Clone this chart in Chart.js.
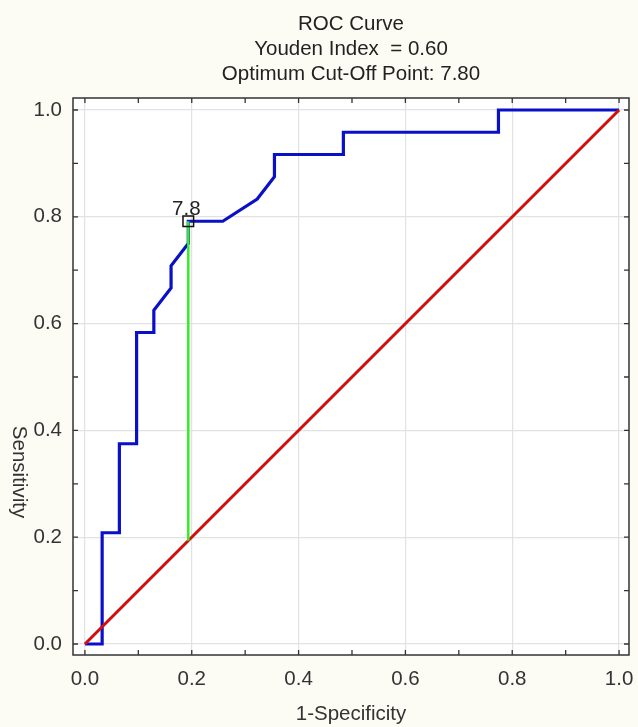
<!DOCTYPE html>
<html>
<head>
<meta charset="utf-8">
<script src="https://cdn.jsdelivr.net/npm/chart.js@4"></script>
<style>
  html, body { margin: 0; padding: 0; background: #fcfcf5; }
  #wrap { width: 638px; height: 727px; }
</style>
</head>
<body>
<div id="wrap"><canvas id="c" width="638" height="727"></canvas></div>
<script>
// ---- data ----
const titleLines = ['ROC Curve', 'Youden Index  = 0.60', 'Optimum Cut-Off Point: 7.80'];
const rocFpr = [0, 1/31, 1/31, 2/31, 2/31, 3/31, 3/31, 4/31, 4/31, 5/31, 5/31, 6/31, 6/31, 8/31, 10/31, 11/31, 11/31, 15/31, 15/31, 24/31, 24/31, 1];
const rocTpr = [0, 0, 5/24, 5/24, 9/24, 9/24, 14/24, 14/24, 15/24, 16/24, 17/24, 18/24, 19/24, 19/24, 20/24, 21/24, 22/24, 22/24, 23/24, 23/24, 1, 1];
const diagX = [0, 1];
const diagY = [0, 1];
const cutFpr = 6/31;
const cutTpr = 19/24;
const cutLabel = '7.8';
const tickValues = [0, 0.1, 0.2, 0.3, 0.4, 0.5, 0.6, 0.7, 0.8, 0.9, 1.0];
const xTitle = '1-Specificity';
const yTitle = 'Sensitivity';

const FONT = 'Liberation Sans, Arial, sans-serif';
const FS = 20.5;

const rocPts = rocFpr.map((x, i) => ({ x: x, y: rocTpr[i] }));
const diagPts = diagX.map((x, i) => ({ x: x, y: diagY[i] }));
const cutPts = [{ x: cutFpr, y: cutFpr }, { x: cutFpr, y: cutTpr }];
const markPts = [{ x: cutFpr, y: cutTpr }];

function isMajor(v) { return Math.abs(v * 5 - Math.round(v * 5)) < 1e-6; }

const framePlugin = {
  id: 'frame',
  beforeDraw(chart) {
    const { ctx, chartArea: a } = chart;
    ctx.save();
    ctx.fillStyle = '#fcfcf5';
    ctx.fillRect(0, 0, chart.width, chart.height);
    ctx.fillStyle = '#ffffff';
    ctx.fillRect(a.left, a.top, a.right - a.left, a.bottom - a.top);
    ctx.restore();
  },
  afterDraw(chart) {
    const { ctx, chartArea: a, scales } = chart;
    const xs = scales.x, ys = scales.y;
    ctx.save();
    // frame
    ctx.strokeStyle = '#333333';
    ctx.lineWidth = 1.5;
    ctx.strokeRect(a.left, a.top, a.right - a.left, a.bottom - a.top);
    // inward ticks
    ctx.lineWidth = 1.3;
    const L = 5;
    ctx.beginPath();
    tickValues.forEach(v => {
      const px = xs.getPixelForValue(v);
      ctx.moveTo(px, a.bottom); ctx.lineTo(px, a.bottom - L);
      ctx.moveTo(px, a.top); ctx.lineTo(px, a.top + L);
      const py = ys.getPixelForValue(v);
      ctx.moveTo(a.left, py); ctx.lineTo(a.left + L, py);
      ctx.moveTo(a.right, py); ctx.lineTo(a.right - L, py);
    });
    ctx.stroke();
    // y title, reading top to bottom
    ctx.fillStyle = '#333333';
    ctx.font = FS + 'px ' + FONT;
    ctx.textAlign = 'center';
    ctx.textBaseline = 'middle';
    ctx.translate(19, 472);
    ctx.rotate(Math.PI / 2);
    ctx.fillText(yTitle, 0, 0);
    ctx.restore();
    // cut-off label
    ctx.save();
    ctx.fillStyle = '#222222';
    ctx.font = FS + 'px ' + FONT;
    ctx.textAlign = 'center';
    ctx.textBaseline = 'alphabetic';
    ctx.fillText(cutLabel, xs.getPixelForValue(cutFpr) - 2, ys.getPixelForValue(cutTpr) - 6);
    ctx.restore();
  }
};

new Chart(document.getElementById('c'), {
  type: 'scatter',
  data: {
    datasets: [
      { data: markPts, showLine: false, pointStyle: 'rect', pointRadius: 7.5, pointBorderWidth: 1.5,
        pointBorderColor: '#111111', pointBackgroundColor: 'rgba(0,0,0,0)' },
      { data: cutPts, showLine: true, borderColor: '#33ee22', borderWidth: 2.5, pointRadius: 0 },
      { data: diagPts, showLine: true, borderColor: '#cc1111', borderWidth: 3, pointRadius: 0 },
      { data: rocPts, showLine: true, borderColor: '#0a10c8', borderWidth: 3.2, pointRadius: 0, tension: 0 }
    ]
  },
  options: {
    responsive: false,
    animation: false,
    devicePixelRatio: 1,
    layout: { padding: { left: 0, right: 4, top: 0, bottom: 0 } },
    plugins: {
      legend: { display: false },
      tooltip: { enabled: false },
      title: {
        display: true,
        text: titleLines,
        fullSize: false,
        color: '#222222',
        font: { family: FONT, size: FS, weight: 'normal', lineHeight: 25 / FS },
        padding: { top: 11.5, bottom: 11.5 }
      }
    },
    scales: {
      x: {
        type: 'linear',
        min: -0.0223, max: 1.0186,
        afterBuildTicks(s) { s.ticks = tickValues.map(v => ({ value: v })); },
        afterFit(s) { s.height = 72; s.paddingLeft = 0; s.paddingRight = 0; },
        ticks: {
          color: '#333333', padding: 0, maxRotation: 0, autoSkip: false,
          font: { family: FONT, size: FS },
          callback: v => isMajor(v) ? v.toFixed(1) : ''
        },
        grid: {
          drawTicks: true, tickLength: 12.5, tickColor: 'rgba(0,0,0,0)',
          color: c => (c.tick && isMajor(c.tick.value)) ? '#e2e2e2' : 'rgba(0,0,0,0)',
          lineWidth: 1.2
        },
        border: { display: false },
        title: { display: true, text: xTitle, color: '#333333', font: { family: FONT, size: FS }, padding: { top: 0, bottom: 0 } }
      },
      y: {
        type: 'linear',
        min: -0.0206, max: 1.0225,
        afterBuildTicks(s) { s.ticks = tickValues.map(v => ({ value: v })); },
        afterFit(s) { s.width = 73; s.paddingTop = 0; s.paddingBottom = 0; },
        ticks: {
          color: '#333333', padding: 0, autoSkip: false,
          font: { family: FONT, size: FS },
          callback: v => isMajor(v) ? v.toFixed(1) : ''
        },
        grid: {
          drawTicks: true, tickLength: 11, tickColor: 'rgba(0,0,0,0)',
          color: c => (c.tick && isMajor(c.tick.value)) ? '#e2e2e2' : 'rgba(0,0,0,0)',
          lineWidth: 1.2
        },
        border: { display: false }
      }
    }
  },
  plugins: [framePlugin]
});
</script>
</body>
</html>
